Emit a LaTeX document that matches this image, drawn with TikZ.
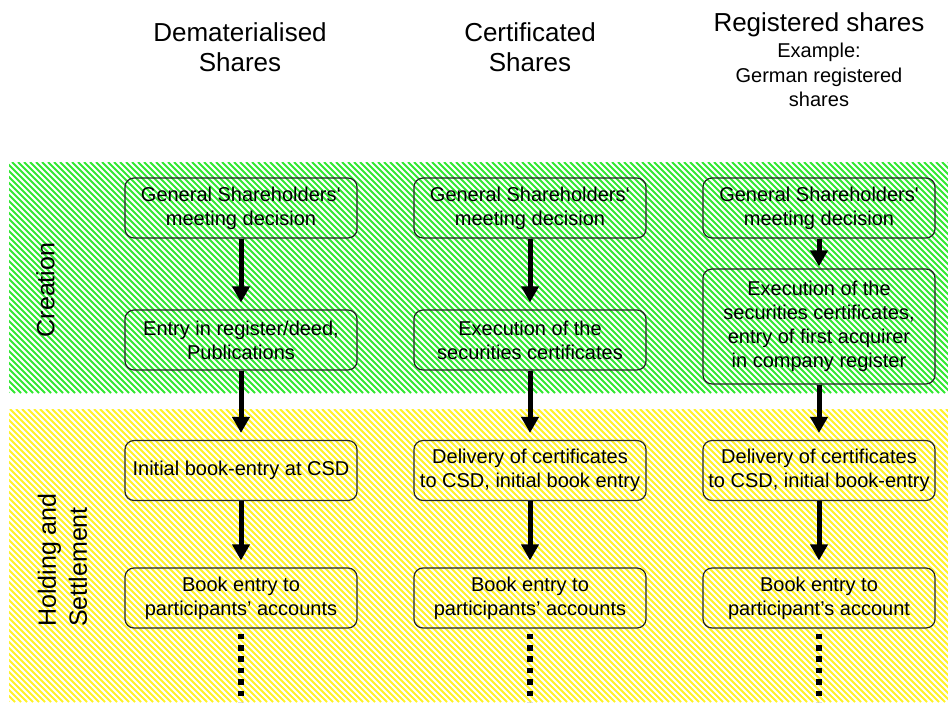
\documentclass[tikz,border=0pt]{standalone}
\usepackage{fontspec}
\setmainfont{Liberation Sans}
\usetikzlibrary{arrows.meta}
\definecolor{hgreen}{RGB}{50,232,50}
\definecolor{hyellow}{RGB}{255,242,40}
\begin{document}
\begin{tikzpicture}[x=1pt,y=-1pt,
  stepbox/.style={draw=black!85, line width=1.2pt, rounded corners=9pt,
    minimum width=232pt, minimum height=60pt, inner sep=1pt, align=center,
    font=\fontsize{20}{24}\selectfont},
  flow/.style={line width=5pt, -{Triangle[width=17pt,length=16pt]}, shorten >=7pt},
  dots/.style={line width=5.5pt, dash pattern=on 5.5pt off 5.9pt, shorten <=5pt},
  title/.style={align=center, font=\fontsize{26}{30}\selectfont, inner sep=0pt},
  side/.style={rotate=90, align=left, font=\fontsize{25}{31}\selectfont, inner sep=0pt},
  hatch/.style={line width=1.9pt}]
\useasboundingbox (0,0) rectangle (948,702);
\fill[white] (0,0) rectangle (948,702);
% creation band
\begin{scope}
  \clip (9,162) rectangle (948,393);
  \foreach \k in {0,...,196} {
    \draw[hatch, hgreen] ({9-231+6*\k},162) -- ({9+6*\k},393);
  }
\end{scope}
% holding band
\begin{scope}
  \clip (9,409) rectangle (948,702);
  \foreach \k in {0,...,206} {
    \draw[hatch, hyellow] ({9-293+6*\k},409) -- ({9+6*\k},702);
  }
\end{scope}

% titles
\node[title] (t1) at (240,47.5) {Dematerialised\\Shares};
\node[title] (t2) at (530,47.5) {Certificated\\Shares};
\node[title, font=\fontsize{20}{24.5}\selectfont] (t3) at (819,60)
  {{\fontsize{26}{30}\selectfont Registered shares}\\[1.5pt]Example:\\German registered\\shares};

% side labels
\node[side] (s1) at (45.5,290) {Creation};
\node[side] (s2) at (62.5,560) {Holding and\\Settlement};

% column 1
\node[stepbox] (a1) at (241,208) {General Shareholders‘\\meeting decision};
\node[stepbox] (a2) at (241,340) {Entry in register/deed,\\Publications};
\node[stepbox] (a3) at (241,470.5) {Initial book-entry at CSD};
\node[stepbox] (a4) at (241,598) {Book entry to\\participants’ accounts};
\coordinate (a5) at (241,702);

% column 2
\node[stepbox] (b1) at (530,208) {General Shareholders‘\\meeting decision};
\node[stepbox] (b2) at (530,340) {Execution of the\\securities certificates};
\node[stepbox] (b3) at (530,470.5) {Delivery of certificates\\to CSD, initial book entry};
\node[stepbox] (b4) at (530,598) {Book entry to\\participants’ accounts};
\coordinate (b5) at (530,702);

% column 3
\node[stepbox] (c1) at (819,208) {General Shareholders\textquotesingle\\meeting decision};
\node[stepbox, minimum height=115pt] (c2) at (819,326.5) {Execution of the\\securities certificates,\\entry of first acquirer\\in company register};
\node[stepbox] (c3) at (819,470.5) {Delivery of certificates\\to CSD, initial book-entry};
\node[stepbox] (c4) at (819,598) {Book entry to\\participant’s account};
\coordinate (c5) at (819,702);

% arrows
\draw[flow] (a1) -- (a2);
\draw[flow] (a2) -- (a3);
\draw[flow] (a3) -- (a4);
\draw[flow] (b1) -- (b2);
\draw[flow] (b2) -- (b3);
\draw[flow] (b3) -- (b4);
\draw[flow, shorten >=2pt] (c1) -- (c2);
\draw[flow] (c2) -- (c3);
\draw[flow] (c3) -- (c4);

% continuation
\draw[dots] (a4) -- (a5);
\draw[dots] (b4) -- (b5);
\draw[dots] (c4) -- (c5);
\end{tikzpicture}
\end{document}
